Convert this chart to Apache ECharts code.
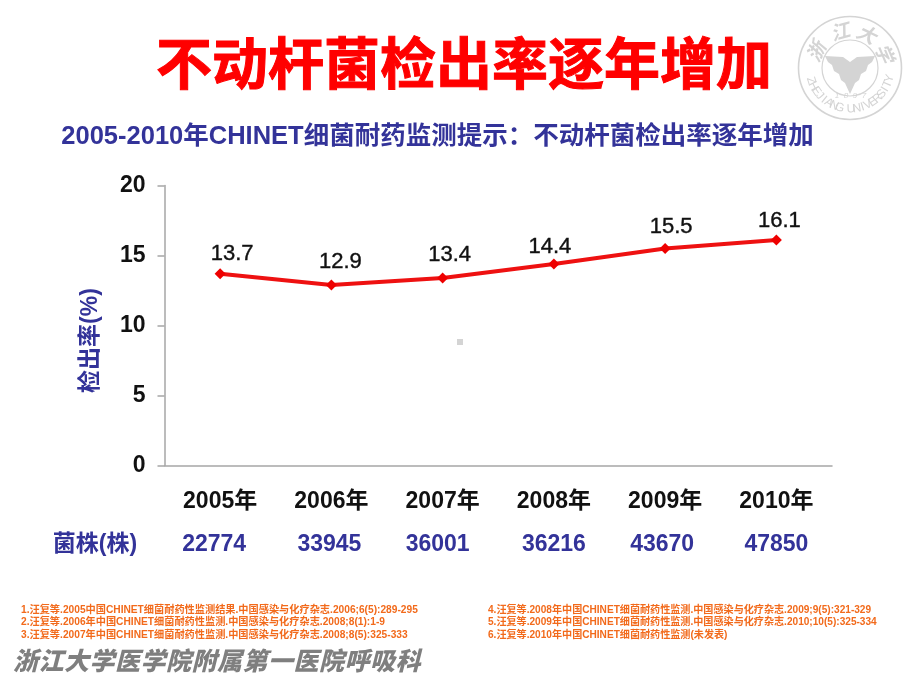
<!DOCTYPE html>
<html><head><meta charset="utf-8">
<style>html,body{margin:0;padding:0;background:#fff}#c{width:920px;height:690px}</style>
<script src="https://cdn.jsdelivr.net/npm/echarts@6/dist/echarts.min.js"></script>
</head><body><div id="c"></div>
<script>
const years = ['2005年','2006年','2007年','2008年','2009年','2010年'];
const rates = [13.7,12.9,13.4,14.4,15.5,16.1];
const strains = ['22774','33945','36001','36216','43670','47850'];
const strainNudge = [-6,-2,-5,0,-3,0];
const labelNudge = [[12,3],[9,0],[7,0],[-4,6],[6,1],[3,3]];
const refsLeft = ['1.汪复等.2005中国CHINET细菌耐药性监测结果.中国感染与化疗杂志.2006;6(5):289-295',
 '2.汪复等.2006年中国CHINET细菌耐药性监测.中国感染与化疗杂志.2008;8(1):1-9',
 '3.汪复等.2007年中国CHINET细菌耐药性监测.中国感染与化疗杂志.2008;8(5):325-333'];
const refsRight = ['4.汪复等.2008年中国CHINET细菌耐药性监测.中国感染与化疗杂志.2009;9(5):321-329',
 '5.汪复等.2009年中国CHINET细菌耐药性监测.中国感染与化疗杂志.2010;10(5):325-334',
 '6.汪复等.2010年中国CHINET细菌耐药性监测(未发表)'];
const footer = '浙江大学医学院附属第一医院呼吸科';
const FF = '"Liberation Sans","Noto Sans CJK SC",sans-serif';
const sealC = '#d4d4d4', blue = '#333399', orange = '#f26a1b';

function txt(x,y,text,size,fill,extra){
  return {type:'text',x,y,silent:true,style:Object.assign({text,fill,font:'bold '+size+'px '+FF,align:'left',verticalAlign:'middle'},extra||{})};
}
const g = [];
g.push(txt(464,69,'不动杆菌检出率逐年增加',56,'#ff0000',{align:'center',stroke:'#ff0000',lineWidth:1}));
g.push(txt(437.5,137,'2005-2010年CHINET细菌耐药监测提示：不动杆菌检出率逐年增加',25.5,blue,{align:'center'}));
g.push(txt(95,545,'菌株(株)',23,blue,{align:'center'}));
refsLeft.forEach((t,i)=>g.push(txt(21,610+i*12.5,t,10.2,orange)));
refsRight.forEach((t,i)=>g.push(txt(488,610+i*12.5,t,10.1,orange)));
[...footer].forEach((ch,i)=>g.push({type:'text',x:13+i*25.5,y:660,silent:true,
  style:{text:ch,fill:'#7f7f7f',font:'italic 900 25px "Noto Sans CJK SC",sans-serif',align:'left',verticalAlign:'middle'}}));
g.push({type:'rect',silent:true,shape:{x:457,y:339,width:6,height:6},style:{fill:'#d4d4d4'}});

// seal
const cx=850, cy=68;
g.push({type:'circle',silent:true,shape:{cx,cy,r:51.5},style:{fill:'none',stroke:sealC,lineWidth:1.6}});
g.push({type:'circle',silent:true,shape:{cx,cy,r:28},style:{fill:'none',stroke:sealC,lineWidth:1.2}});
g.push({type:'polygon',silent:true,shape:{points:[[825,56],[843,57],[850,62],[857,57],[875,56],[872,62],[868,65],[866,71],[861,74],[859,80],[855,83],[850,94],[845,83],[841,80],[839,74],[834,71],[832,65],[828,62]]},style:{fill:sealC}});
[['浙',-154],['江',-105],['大',-64],['学',-23]].forEach(([ch,d])=>{const a=d*Math.PI/180,rr=38;
  g.push({type:'text',silent:true,x:cx+rr*Math.cos(a),y:cy+rr*Math.sin(a),rotation:-(a+Math.PI/2),
   style:{text:ch,fill:sealC,font:'italic bold 19px "Noto Sans CJK SC"',align:'center',verticalAlign:'middle'}});});
const uni='ZHEJIANG UNIVERSITY';
[...uni].forEach((ch,i)=>{const d=162-i*(147/(uni.length-1)),a=d*Math.PI/180,rr=41;
  g.push({type:'text',silent:true,x:cx+rr*Math.cos(a),y:cy+rr*Math.sin(a),rotation:-(a-Math.PI/2),
   style:{text:ch,fill:sealC,font:'12px "Liberation Sans"',align:'center',verticalAlign:'middle'}});});
[...'1897'].forEach((ch,i)=>g.push(txt(837+i*9,96,ch,7,sealC,{font:'italic 8px "Liberation Sans"',align:'center'})));

const chart = echarts.init(document.getElementById('c'),null,{renderer:'canvas'});
chart.setOption({
  animation:false,
  backgroundColor:'#fff',
  grid:{left:164.5,top:185.5,width:667.5,height:280,containLabel:false},
  xAxis:{type:'category',data:years,boundaryGap:true,
    axisLine:{lineStyle:{color:'#a6a6a6',width:1.5}},
    axisTick:{inside:true,length:7,alignWithLabel:false,lineStyle:{color:'#b8b8b8',width:1.5}},
    axisLabel:{margin:25,color:'#111',fontFamily:FF,fontWeight:'bold',fontSize:23}},
  yAxis:{type:'value',min:0,max:20,interval:5,
    name:'检出率(%)',nameLocation:'middle',nameGap:62,nameRotate:90,
    nameTextStyle:{color:blue,fontFamily:FF,fontWeight:'bold',fontSize:23,padding:[0,30,0,0]},
    axisLine:{show:true,lineStyle:{color:'#a6a6a6',width:1.5}},
    axisTick:{show:true,length:7,lineStyle:{color:'#a6a6a6',width:1.5}},
    splitLine:{show:false},
    axisLabel:{margin:19,padding:[4,0,0,0],color:'#111',fontFamily:FF,fontWeight:'bold',fontSize:23}},
  series:[{type:'line',data:rates.map((v,i)=>({value:v,label:{offset:labelNudge[i]}})),
    symbol:'diamond',symbolSize:11,
    lineStyle:{color:'#ee1111',width:4},
    itemStyle:{color:'#ee0000'},
    label:{show:true,position:'top',distance:6,color:'#111',fontFamily:FF,fontSize:22,
      textBorderColor:'#111',textBorderWidth:0.4,
      formatter:p=>p.value.toFixed(1)}}],
  graphic:{elements:g}
});
const gg=g.slice();
strains.forEach((s,i)=>{const x=chart.convertToPixel({xAxisIndex:0},years[i])+strainNudge[i];
  gg.push(txt(x,545,s,23,blue,{align:'center'}));});
chart.setOption({graphic:{elements:gg}},{replaceMerge:['graphic']});
</script></body></html>
